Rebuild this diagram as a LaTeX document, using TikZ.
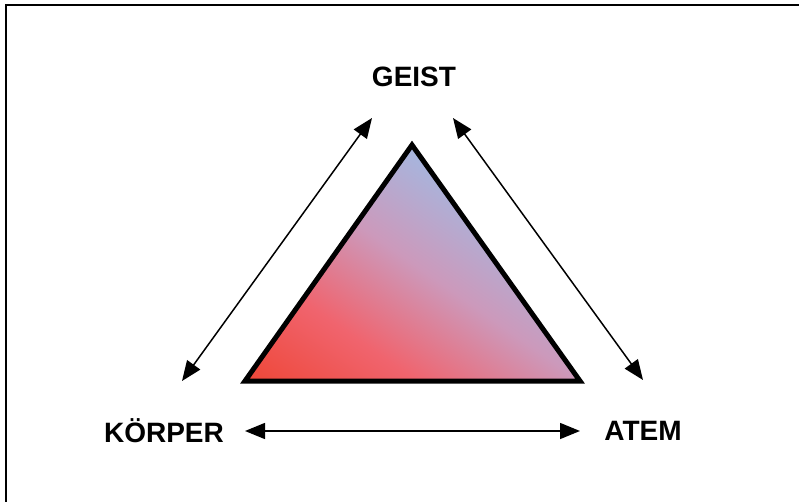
\documentclass[tikz,border=0pt]{standalone}
\usepackage{fontspec}
\setmainfont{Liberation Sans}
\usepackage{tikz}
\usetikzlibrary{positioning,arrows.meta,calc}
\definecolor{tired}{HTML}{EE4433}
\definecolor{tipink}{HTML}{F0646E}
\definecolor{tilila}{HTML}{CC99BB}
\definecolor{tiblue}{HTML}{A8B4DC}
\pgfdeclarehorizontalshading{trishade}{100bp}{color(0bp)=(tired); color(14bp)=(tired); color(33bp)=(tipink); color(50bp)=(tilila); color(66bp)=(tiblue); color(100bp)=(tiblue)}

\begin{document}
\begin{tikzpicture}[x=1bp,y=-1bp,
  lbl/.style={font=\fontsize{28bp}{30bp}\selectfont\bfseries,inner sep=0pt},
  arr/.style={{Triangle[length=20bp,width=16bp]}-{Triangle[length=20bp,width=16bp]},line width=1.5bp}]
\useasboundingbox (0,0) rectangle (799,502);
\draw[line width=2bp] (5.5,5.5) rectangle (810,512);
% dreieck
\coordinate (top) at (412,145);
\coordinate (bl) at (245,381);
\coordinate (br) at (580,381);
\shade[shading=trishade,shading angle=55] (top) -- (bl) -- (br) -- cycle;
\draw[line width=5bp,miter limit=10] (top) -- (bl) -- (br) -- cycle;
% begriffe
\node[lbl] (geist) at (414,77) {GEIST};
\node[lbl] (koerper) at (164,431) {KÖRPER};
\node[lbl] (atem) at (643,431) {ATEM};
% pfeilenden
\coordinate (gl) at (372,118);
\coordinate (gr) at (453,118);
\coordinate (kl) at (182,381);
\coordinate (ar) at (643,380);
\coordinate (kb) at (245,431);
\coordinate (ab) at (580,431);
\draw[arr] (kl) -- (gl);
\draw[arr] (gr) -- (ar);
\draw[arr] (kb) -- (ab);
\end{tikzpicture}
\end{document}
